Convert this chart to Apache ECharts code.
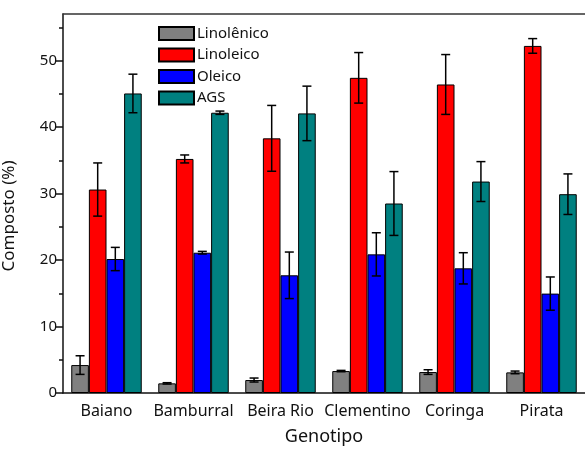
<!DOCTYPE html>
<html>
<head>
<meta charset="utf-8">
<script src="https://cdn.jsdelivr.net/npm/echarts@6/dist/echarts.min.js"></script>
<style>
  html, body { margin: 0; padding: 0; background: #fff; }
  #chart { width: 585px; height: 455px; }
</style>
</head>
<body>
<div id="chart"></div>
<script>
var categories = ['Baiano', 'Bamburral', 'Beira Rio', 'Clementino', 'Coringa', 'Pirata'];
var seriesNames = ['Linolênico', 'Linoleico', 'Oleico', 'AGS'];

// medias e desvios
var linolenico    = [4.2, 1.45, 1.95, 3.3, 3.15, 3.1];
var linolenicoErr = [1.4, 0.1, 0.3, 0.1, 0.35, 0.2];
var linoleico     = [30.6, 35.2, 38.3, 47.4, 46.4, 52.2];
var linoleicoErr  = [4.0, 0.6, 4.95, 3.8, 4.5, 1.1];
var oleico        = [20.15, 21.1, 17.7, 20.85, 18.75, 14.95];
var oleicoErr     = [1.75, 0.2, 3.5, 3.25, 2.35, 2.5];
var ags           = [45.05, 42.15, 42.05, 28.5, 31.8, 29.9];
var agsErr        = [2.9, 0.25, 4.1, 4.8, 3.0, 3.05];

var majorTicks = [0, 10, 20, 30, 40, 50];
var minorTicks = [5, 15, 25, 35, 45, 55];

var colors = ['#808080', '#ff0000', '#0000ff', '#008080'];
var means = [linolenico, linoleico, oleico, ags];
var errs = [linolenicoErr, linoleicoErr, oleicoErr, agsErr];

var font = 'Noto Sans';
var gapRatio = 0.19;

var chart = echarts.init(document.getElementById('chart'));

function errorBars(k) {
	return function (params, api) {
		var i = api.value(0);
		var lo = api.coord([i, api.value(1)]);
		var hi = api.coord([i, api.value(2)]);
		var catW = api.size([1, 0])[0];
		var bw = catW * (1 - gapRatio) / 4;
		var x = lo[0] + (k - 1.5) * bw;
		var cap = 4.5;
		var st = { stroke: '#000', lineWidth: 1.5 };
		return {
			type: 'group',
			children: [
				{ type: 'line', shape: { x1: x, y1: lo[1], x2: x, y2: hi[1] }, style: st },
				{ type: 'line', shape: { x1: x - cap, y1: lo[1], x2: x + cap, y2: lo[1] }, style: st },
				{ type: 'line', shape: { x1: x - cap, y1: hi[1], x2: x + cap, y2: hi[1] }, style: st }
			]
		};
	};
}

var series = [];
for (var k = 0; k < 4; k++) {
	series.push({
		name: seriesNames[k],
		type: 'bar',
		barGap: '0%',
		barCategoryGap: (gapRatio * 100) + '%',
		itemStyle: { color: colors[k], borderColor: '#000', borderWidth: 1 },
		data: means[k]
	});
}
for (var k = 0; k < 4; k++) {
	var d = [];
	for (var i = 0; i < categories.length; i++) {
		d.push([i, means[k][i] - errs[k][i], means[k][i] + errs[k][i]]);
	}
	series.push({
		type: 'custom',
		renderItem: errorBars(k),
		encode: { x: 0, y: [1, 2] },
		z: 10,
		clip: false,
		silent: true,
		data: d
	});
}

var lineDark = { color: '#111', width: 1.5 };

var option = {
	animation: false,
	textStyle: { fontFamily: font },
	grid: { left: 63, top: 14, right: -3, bottom: 62 },
	legend: {
		data: seriesNames,
		orient: 'vertical',
		icon: 'rect',
		left: 153,
		top: 21,
		itemWidth: 35,
		itemHeight: 13,
		itemGap: 6.5,
		textStyle: { fontFamily: font, fontSize: 15, color: '#111', padding: [0, 0, 0, -2] }
	},
	xAxis: [{
		type: 'category',
		position: 'bottom',
		data: categories,
		name: 'Genotipo',
		nameLocation: 'middle',
		nameGap: 35,
		nameTextStyle: { fontFamily: font, fontSize: 18, color: '#111' },
		axisLine: { lineStyle: lineDark },
		axisTick: { alignWithLabel: true, length: 8, lineStyle: lineDark },
		axisLabel: { fontFamily: font, fontSize: 16, color: '#111', margin: 10, interval: 0 }
	}, {
		type: 'category',
		position: 'bottom',
		data: categories,
		axisLine: { show: false },
		axisTick: { length: 4, lineStyle: lineDark },
		axisLabel: { show: false }
	}, {
		type: 'category',
		position: 'top',
		data: categories,
		axisLine: { lineStyle: { color: '#333', width: 1.5 } },
		axisTick: { inside: true, length: 3, lineStyle: { color: '#333', width: 1.5 } },
		axisLabel: { show: false }
	}, {
		type: 'category',
		position: 'top',
		data: categories,
		axisLine: { show: false },
		axisTick: { inside: true, alignWithLabel: true, length: 3, lineStyle: { color: '#333', width: 1.5 } },
		axisLabel: { show: false }
	}],
	yAxis: [{
		type: 'value',
		position: 'left',
		min: 0,
		max: 57,
		interval: 10,
		splitLine: { show: false },
		axisLine: { show: true, lineStyle: lineDark },
		axisTick: { show: true, length: 8, lineStyle: lineDark, customValues: majorTicks },
		axisLabel: { fontFamily: font, fontSize: 15, color: '#111', margin: 6, customValues: majorTicks }
	}, {
		type: 'value',
		position: 'left',
		min: 0,
		max: 57,
		interval: 5,
		splitLine: { show: false },
		axisLine: { show: false },
		axisTick: { show: true, length: 4, lineStyle: lineDark, customValues: minorTicks },
		axisLabel: { show: false }
	}],
	graphic: [{
		type: 'text',
		x: 9,
		y: 216,
		rotation: Math.PI / 2,
		style: {
			text: 'Composto (%)',
			fontFamily: font,
			fontSize: 17,
			fill: '#111',
			align: 'center',
			verticalAlign: 'middle'
		}
	}],
	series: series
};

chart.setOption(option);
</script>
</body>
</html>
